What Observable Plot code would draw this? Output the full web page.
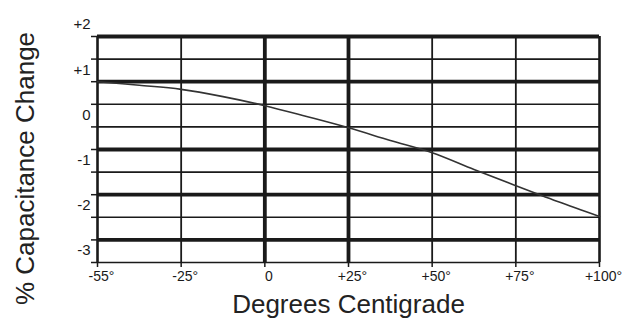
<!DOCTYPE html>
<html>
<head>
<meta charset="utf-8">
<script src="https://cdn.jsdelivr.net/npm/d3@7"></script>
<script src="https://cdn.jsdelivr.net/npm/@observablehq/plot@0.6"></script>
<style>
  html, body { margin: 0; padding: 0; background: #fff; }
  #chart svg { display: block; font-family: "Liberation Sans", Arial, sans-serif; }
</style>
</head>
<body>
<div id="chart"></div>
<script>
// Temperature (°C) and % capacitance change
const temps  = [-55, -40, -25, -12.5, 0, 12.5, 25, 37.5, 50, 62.5, 75, 87.5, 100];
const change = [1.0, 0.92, 0.83, 0.67, 0.47, 0.23, -0.02, -0.30, -0.57, -0.94, -1.30, -1.65, -1.98];

// Axis ticks
const xTicks = [-55, -25, 0, 25, 50, 75, 100];
const xTickLabels = ["-55°", "-25°", "0", "+25°", "+50°", "+75°", "+100°"];
const yTicks = [2, 1, 0, -1, -2, -3];
const yTickLabels = ["+2", "+1", "0", "-1", "-2", "-3"];

// Grid structure of the original chart
const yGrid = [2, 1.5, 1, 0.5, 0, -0.5, -1, -1.5, -2, -2.5, -3];
const yGridHeavy = [2, 1, -0.5, -1.5, -2.5];
const xGridHeavy = [0, 25];
const xGridLight = [-25, 50, 75];
const xGridEdge = [-55, 100];

const W = 631, H = 319;
const mL = 97, mR = 32, mT = 36, mB = 57;
const xLabelMap = new Map(xTicks.map((t, i) => [t, xTickLabels[i]]));
const yLabelMap = new Map(yTicks.map((t, i) => [t, yTickLabels[i]]));
const data = temps.map((t, i) => ({t, v: change[i]}));
const ink = "#1a1a1a";

const chart = Plot.plot({
  width: W,
  height: H,
  marginLeft: mL,
  marginRight: mR,
  marginTop: mT,
  marginBottom: mB,
  style: {fontFamily: "'Liberation Sans', Arial, sans-serif", background: "#fff"},
  x: {
    type: "linear",
    domain: xTicks,
    range: xTicks.map((_, i) => mL + i * (W - mL - mR) / (xTicks.length - 1))
  },
  y: {domain: [-3, 2]},
  marks: [
    // tick stubs
    Plot.axisY({ticks: yGrid, tickSize: 6, tickFormat: () => "", label: null, stroke: ink, strokeWidth: 1.5}),
    Plot.axisX({ticks: xTicks, tickSize: 5, tickFormat: () => "", label: null, stroke: ink, strokeWidth: 1.5}),
    // light grid
    Plot.ruleY(yGrid.filter(d => !yGridHeavy.includes(d)), {y: d => d, stroke: ink, strokeWidth: 1.6}),
    Plot.ruleX(xGridLight, {x: d => d, stroke: ink, strokeWidth: 1.8}),
    Plot.ruleX(xGridEdge, {x: d => d, stroke: ink, strokeWidth: 2.6}),
    // heavy grid
    Plot.ruleY(yGridHeavy, {y: d => d, stroke: ink, strokeWidth: 3.8}),
    Plot.ruleX(xGridHeavy, {x: d => d, stroke: ink, strokeWidth: 3.8}),
    // labels
    Plot.axisY({ticks: yTicks, tickSize: 0, tickPadding: 7, dy: -12, fontSize: 15, label: null,
                tickFormat: d => yLabelMap.get(d), fill: ink}),
    Plot.axisX({ticks: xTicks, tickSize: 0, tickPadding: 9, dx: 4, fontSize: 14, label: null,
                tickFormat: d => xLabelMap.get(d), fill: ink}),
    // curve
    Plot.line(data, {x: "t", y: "v", curve: "catmull-rom", stroke: "#333", strokeWidth: 1.6}),
    // titles
    Plot.text(["Degrees Centigrade"], {frameAnchor: "bottom", lineAnchor: "middle", textAnchor: "middle",
                                       dy: 42, fontSize: 26, fill: "#222"}),
    Plot.text(["% Capacitance Change"], {frameAnchor: "left", lineAnchor: "middle", textAnchor: "middle",
                                         rotate: -90, dx: -72, dy: 19, fontSize: 26, fill: "#222"})
  ]
});
document.getElementById("chart").appendChild(chart);
</script>
</body>
</html>
